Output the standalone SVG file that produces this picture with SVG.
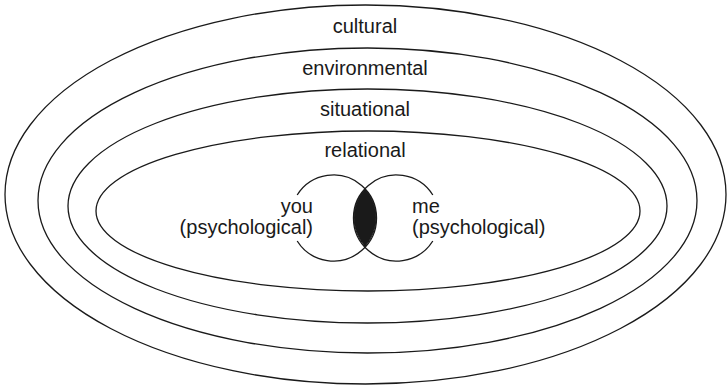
<svg xmlns="http://www.w3.org/2000/svg" width="728" height="387" viewBox="0 0 728 387">
<style>
.ring{fill:none;stroke:#1a1a1a;stroke-width:1.3}
.lbl{font-family:"Liberation Sans",Arial,sans-serif;font-size:20px;fill:#1a1a1a}
</style>
<rect width="728" height="387" fill="#fff"/>
<g id="cultural">
<ellipse class="ring" cx="365.5" cy="194.5" rx="360.5" ry="189.5"/>
<text class="lbl" x="365" y="33" text-anchor="middle">cultural</text>
</g>
<g id="environmental">
<ellipse class="ring" cx="367.5" cy="200.5" rx="329.5" ry="152.5"/>
<text class="lbl" x="365" y="75" text-anchor="middle">environmental</text>
</g>
<g id="situational">
<ellipse class="ring" cx="367.5" cy="206" rx="299.5" ry="117"/>
<text class="lbl" x="365" y="116" text-anchor="middle">situational</text>
</g>
<g id="relational">
<ellipse class="ring" cx="368" cy="211" rx="272" ry="80"/>
<text class="lbl" x="365" y="157" text-anchor="middle">relational</text>
</g>
<g id="you">
<path class="ring" d="M 297.2 195 A 43 43 0 1 1 297.2 241"/>
<text class="lbl" x="313" y="213" text-anchor="end">you</text>
<text class="lbl" x="313" y="234" text-anchor="end">(psychological)</text>
</g>
<g id="me">
<path class="ring" d="M 432.8 195 A 43 43 0 1 0 432.8 241"/>
<text class="lbl" x="412" y="213">me</text>
<text class="lbl" x="412" y="234">(psychological)</text>
</g>
<g id="overlap">
<path d="M 365 188.8 A 43 43 0 0 1 365 246.2 A 43 43 0 0 1 365 188.8 Z" fill="#1a1a1a" stroke="#1a1a1a" stroke-width="1"/>
</g>
</svg>
